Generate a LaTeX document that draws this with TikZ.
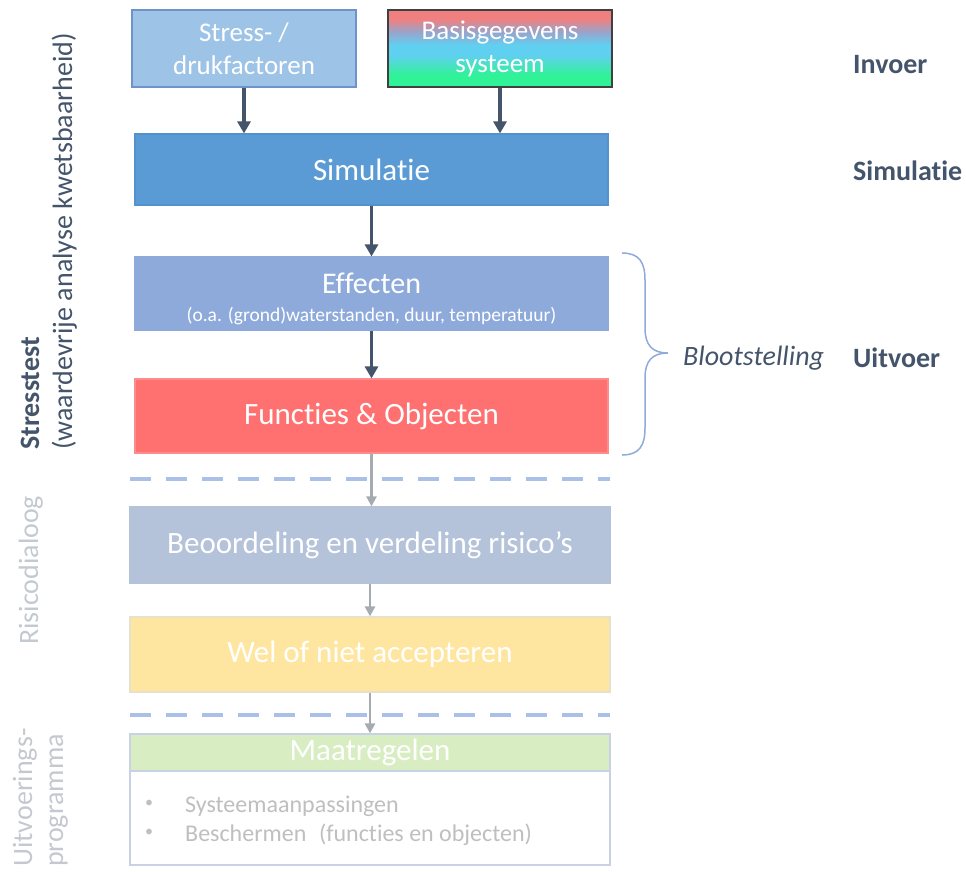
\documentclass[tikz,border=0pt]{standalone}
\usepackage{fontspec}
\setmainfont{Carlito}[Ligatures=NoCommon]
\usetikzlibrary{arrows.meta}
\definecolor{darktxt}{RGB}{68,84,106}
\definecolor{stressfill}{RGB}{157,195,230}
\definecolor{stressdraw}{RGB}{112,146,204}
\definecolor{basisdraw}{RGB}{64,64,64}
\definecolor{gradtop}{RGB}{240,128,128}
\definecolor{gradgray}{RGB}{150,165,205}
\definecolor{gradmid}{RGB}{96,208,240}
\definecolor{gradbot}{RGB}{48,242,150}
\definecolor{simfill}{RGB}{91,155,213}
\definecolor{simdraw}{RGB}{84,146,205}
\definecolor{efffill}{RGB}{142,170,219}
\definecolor{funcfill}{RGB}{255,112,112}
\definecolor{funcdraw}{RGB}{255,140,140}
\definecolor{beofill}{RGB}{180,194,218}
\definecolor{welfill}{RGB}{255,230,160}
\definecolor{weldraw}{RGB}{230,225,200}
\definecolor{maatfill}{RGB}{217,237,195}
\definecolor{paleedge}{RGB}{200,210,228}
\definecolor{dashblue}{RGB}{170,192,232}
\definecolor{grayarrow}{RGB}{166,171,178}
\definecolor{lightlabel}{RGB}{196,201,209}
\definecolor{bullettxt}{RGB}{191,191,191}
\definecolor{bracecol}{RGB}{143,170,220}
\tikzset{
  boxbase/.style={rectangle, inner sep=0pt, text=white, align=center, line width=1.2pt},
  bigtxt/.style={font=\fontsize{31}{37}\selectfont},
  midtxt/.style={font=\fontsize{27}{33}\selectfont},
  darkarrow/.style={draw=darktxt, line width=3.5pt, -{Triangle[length=12pt,width=13pt]}},
  grayarr/.style={draw=grayarrow, line width=2.5pt, -{Triangle[length=10pt,width=10pt]}},
  sepline/.style={draw=dashblue, line width=4pt, dash pattern=on 21pt off 15pt},
  sidelabel/.style={text=darktxt, font=\fontsize{28}{33}\selectfont\bfseries, anchor=base west, inner sep=0pt},
  vlabel/.style={rotate=90, anchor=base west, inner sep=0pt},
  bultxt/.style={text=bullettxt, font=\fontsize{24}{29}\selectfont, inner sep=0pt},
  bulletdot/.style={text=bullettxt, font=\fontsize{16}{20}\selectfont, inner sep=0pt},
}
\begin{document}
\begin{tikzpicture}[x=1pt,y=-1pt]
\useasboundingbox (0,0) rectangle (966,871);

% gradient background of the basis box
\fill[gradtop] (388,10) rectangle (612,19.5);
\shade[top color=gradtop, bottom color=gradmid, middle color=gradgray] (388,19) rectangle (612,45.5);
\fill[gradmid] (388,45) rectangle (612,55.5);
\shade[top color=gradmid, bottom color=gradbot] (388,55) rectangle (612,75.5);
\fill[gradbot] (388,75) rectangle (612,87);

% input boxes
\node[boxbase, midtxt, fill=stressfill, draw=stressdraw, minimum width=224pt, minimum height=77pt]
  (stress) at (244,48.5) {Stress- /\\drukfactoren};
\node[boxbase, midtxt, draw=basisdraw, minimum width=224pt, minimum height=77pt]
  (basis) at (500,48.5) {Basisgegevens\\systeem};

% simulation
\node[boxbase, bigtxt, fill=simfill, draw=simdraw, minimum width=473pt, minimum height=71pt]
  (sim) at (371.5,169.5) {Simulatie};

% effects
\node[boxbase, fill=efffill, draw=efffill, minimum width=473pt, minimum height=73pt]
  (eff) at (371.5,293.5) {};
\node[text=white, font=\fontsize{30}{36}\selectfont, anchor=base, inner sep=0pt]
  (efft) at (371.5,293) {Effecten};
\node[text=white, font=\fontsize{19.5}{23}\selectfont, anchor=base, inner sep=0pt]
  (effs) at (371.5,321) {(o.a. (grond)waterstanden, duur, temperatuur)};

% functions
\node[boxbase, bigtxt, fill=funcfill, draw=funcdraw, minimum width=473pt, minimum height=74pt]
  (func) at (371.5,416) {Functies \& Objecten};

% lower boxes
\node[boxbase, bigtxt, fill=beofill, draw=beofill, minimum width=480pt, minimum height=76pt]
  (beo) at (370,545) {Beoordeling en verdeling risico’s};
\node[boxbase, bigtxt, fill=welfill, draw=weldraw, minimum width=480pt, minimum height=75pt]
  (wel) at (370,654.5) {Wel of niet accepteren};
\node[boxbase, fill=white, draw=paleedge, minimum width=480pt, minimum height=94pt]
  (mbody) at (370,818) {};
\node[boxbase, bigtxt, fill=maatfill, draw=paleedge, minimum width=480pt, minimum height=37pt]
  (maat) at (370,752.5) {Maatregelen};

% bullets
\node[bulletdot, anchor=center] (b1) at (149,804) {•};
\node[bultxt, anchor=base west] (t1) at (185,812) {Systeemaanpassingen};
\node[bulletdot, anchor=center] (b2) at (149,833) {•};
\node[bultxt, anchor=base west] (t2) at (185,841) {Beschermen\hspace{0.3em} (functies en objecten)};

% separators
\draw[sepline] (130,479) -- (610,479);
\draw[sepline] (130,715) -- (610,715);

% arrows
\draw[darkarrow] (stress.south) -- (stress.south |- sim.north);
\draw[darkarrow] (basis.south) -- (basis.south |- sim.north);
\draw[darkarrow] (sim.south) -- (sim.south |- eff.north);
\draw[darkarrow] (eff.south) -- (eff.south |- func.north);
\draw[grayarr] (func.south) -- (func.south |- beo.north);
\draw[grayarr] (beo.south) -- (beo.south |- wel.north);
\draw[grayarr] (wel.south) -- (wel.south |- maat.north);

% brace
\draw[bracecol, line width=1.5pt]
  (622,253) .. controls (639,253) and (645,262) .. (645,280) -- (645,328)
  .. controls (645,345) and (652,353) .. (668,353)
  .. controls (652,353) and (645,361) .. (645,378) -- (645,428)
  .. controls (645,446) and (639,455) .. (622,455);
\node[text=darktxt, font=\fontsize{28}{33}\selectfont\itshape, anchor=base west, inner sep=0pt]
  (bloot) at (683,365) {Blootstelling};

% right labels
\node[sidelabel] (invoer) at (853,73) {Invoer};
\node[sidelabel] (simlab) at (853,180) {Simulatie};
\node[sidelabel] (uitvoer) at (853,367) {Uitvoer};

% left rotated labels
\node[vlabel, text=darktxt, font=\fontsize{28}{33}\selectfont\bfseries] (stl) at (39,450) {Stresstest};
\node[vlabel, text=darktxt, font=\fontsize{28}{33}\selectfont] (wal) at (72,450) {(waardevrije analyse kwetsbaarheid)};
\node[vlabel, text=lightlabel, font=\fontsize{28}{33}\selectfont] (ril) at (38,645) {Risicodialoog};
\node[vlabel, text=lightlabel, font=\fontsize{28}{33}\selectfont] (uil) at (32,867) {Uitvoerings-};
\node[vlabel, text=lightlabel, font=\fontsize{28}{33}\selectfont] (prl) at (63,867) {programma};
\end{tikzpicture}
\end{document}
